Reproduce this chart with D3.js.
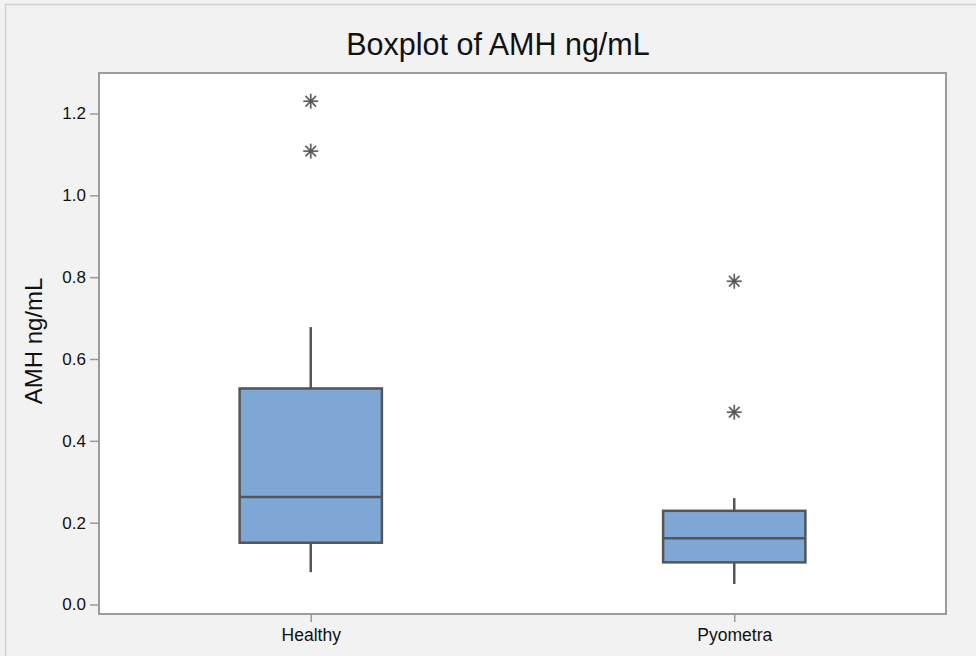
<!DOCTYPE html>
<html>
<head>
<meta charset="utf-8">
<script src="https://cdn.jsdelivr.net/npm/d3@7/dist/d3.min.js"></script>
<style>
  html, body { margin: 0; padding: 0; background: #f2f2f2; }
  svg { display: block; }
</style>
</head>
<body>
<script>
// ---- data ----
const categories   = ["Healthy", "Pyometra"];
const whiskerLow   = [0.079, 0.050];
const q1Values     = [0.151, 0.103];
const medianValues = [0.263, 0.162];
const q3Values     = [0.528, 0.229];
const whiskerHigh  = [0.678, 0.260];
const outliers     = [[1.108, 1.230], [0.470, 0.790]];
const yTicks       = [0.0, 0.2, 0.4, 0.6, 0.8, 1.0, 1.2];
const titleText    = "Boxplot of AMH ng/mL";
const yLabelText   = "AMH ng/mL";

const W = 976, H = 656;
const plot = { left: 99, right: 946, top: 73, bottom: 614 };
const font = "'Liberation Sans', Arial, Helvetica, sans-serif";

const svg = d3.select("body").append("svg").attr("width", W).attr("height", H);

// outer frame
svg.append("rect").attr("x", 0).attr("y", 0).attr("width", W).attr("height", H).attr("fill", "#f2f2f2");
svg.append("rect").attr("x", 5.5).attr("y", 4.5).attr("width", W + 10).attr("height", H + 10)
  .attr("fill", "#f2f2f2").attr("stroke", "#d2d2d2").attr("stroke-width", 1.5);

// plot area
svg.append("rect").attr("x", plot.left).attr("y", plot.top)
  .attr("width", plot.right - plot.left).attr("height", plot.bottom - plot.top)
  .attr("fill", "#ffffff");

const x = d3.scalePoint().domain(categories).range([plot.left, plot.right]).padding(0.5);
const y = d3.scaleLinear().domain([0, 1.2]).range([604.5, 113.5]);
const boxW = (plot.right - plot.left) * 0.168;

// title
svg.append("text").attr("x", 498).attr("y", 55).attr("text-anchor", "middle")
  .attr("font-family", font).attr("font-size", 30.5).attr("fill", "#111").text(titleText);

// y label
svg.append("text").attr("transform", `translate(42,341) rotate(-90)`).attr("text-anchor", "middle")
  .attr("font-family", font).attr("font-size", 24).attr("fill", "#111").text(yLabelText);

// axes
const yAxis = svg.append("g").attr("transform", `translate(${plot.left},0)`)
  .call(d3.axisLeft(y).tickValues(yTicks).tickFormat(d3.format(".1f")).tickSize(9).tickPadding(4));
yAxis.select(".domain").remove();
yAxis.selectAll(".tick line").attr("stroke", "#999").attr("stroke-width", 1.5);
yAxis.selectAll(".tick text").attr("font-family", font).attr("font-size", 17).attr("fill", "#111");

const xAxis = svg.append("g").attr("transform", `translate(0,${plot.bottom})`)
  .call(d3.axisBottom(x).tickSize(8).tickPadding(7));
xAxis.select(".domain").remove();
xAxis.selectAll(".tick line").attr("stroke", "#999").attr("stroke-width", 1.5);
xAxis.selectAll(".tick text").attr("font-family", font).attr("font-size", 17.5).attr("fill", "#111");

// plot border
svg.append("rect").attr("x", plot.left).attr("y", plot.top)
  .attr("width", plot.right - plot.left).attr("height", plot.bottom - plot.top)
  .attr("fill", "none").attr("stroke", "#9c9c9c").attr("stroke-width", 2);

// boxes
const stroke = "#555555";
const g = svg.append("g");
categories.forEach((c, i) => {
  const cx = x(c);
  // whiskers
  g.append("line").attr("x1", cx).attr("x2", cx).attr("y1", y(q3Values[i])).attr("y2", y(whiskerHigh[i]))
    .attr("stroke", stroke).attr("stroke-width", 2.5);
  g.append("line").attr("x1", cx).attr("x2", cx).attr("y1", y(q1Values[i])).attr("y2", y(whiskerLow[i]))
    .attr("stroke", stroke).attr("stroke-width", 2.5);
  // box
  g.append("rect").attr("x", cx - boxW / 2).attr("y", y(q3Values[i]))
    .attr("width", boxW).attr("height", y(q1Values[i]) - y(q3Values[i]))
    .attr("fill", "#7fa7d6").attr("stroke", stroke).attr("stroke-width", 2.5);
  // median
  g.append("line").attr("x1", cx - boxW / 2).attr("x2", cx + boxW / 2)
    .attr("y1", y(medianValues[i])).attr("y2", y(medianValues[i]))
    .attr("stroke", stroke).attr("stroke-width", 2.5);
  // outliers (asterisks)
  outliers[i].forEach(v => {
    const oy = y(v), r = 7.5;
    const star = g.append("g").attr("transform", `translate(${cx},${oy})`);
    [0, 45, 90, 135].forEach(a => {
      const rad = a * Math.PI / 180;
      star.append("line")
        .attr("x1", -r * Math.cos(rad)).attr("y1", -r * Math.sin(rad))
        .attr("x2", r * Math.cos(rad)).attr("y2", r * Math.sin(rad))
        .attr("stroke", "#666").attr("stroke-width", 1.8);
    });
    star.append("circle").attr("r", 2).attr("fill", "#555");
  });
});
</script>
</body>
</html>
